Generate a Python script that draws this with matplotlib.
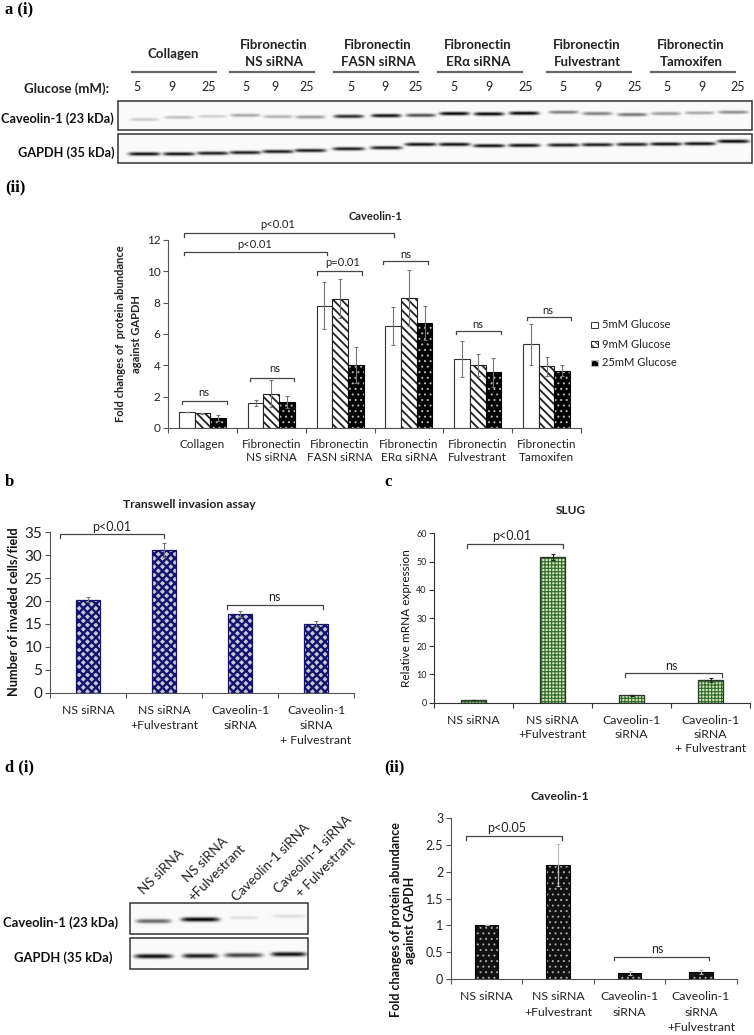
#!/usr/bin/env python3
# -*- coding: utf-8 -*-
"""
Multi panel figure: western blots and bar charts of Caveolin-1 / SLUG.
"""

import numpy as np
import matplotlib
matplotlib.use("Agg")
import matplotlib.pyplot as plt
from matplotlib.patches import Rectangle

W, H = 754, 1035

# panel a (ii)
groups_a = ["Collagen", "Fibronectin\nNS siRNA", "Fibronectin\nFASN siRNA",
            "Fibronectin\nERα siRNA", "Fibronectin\nFulvestrant", "Fibronectin\nTamoxifen"]
glucose_5 = [1.0, 1.6, 7.8, 6.5, 4.4, 5.35]
glucose_9 = [0.93, 2.2, 8.25, 8.3, 4.05, 3.95]
glucose_25 = [0.65, 1.65, 4.0, 6.7, 3.55, 3.65]
err_5 = [0.0, 0.2, 1.5, 1.2, 1.15, 1.3]
err_9 = [0.05, 0.85, 1.25, 1.8, 0.7, 0.6]
err_25 = [0.2, 0.4, 1.15, 1.1, 0.95, 0.35]

# panels b, c, d (ii)
labels_b = ["NS siRNA", "NS siRNA\n+Fulvestrant", "Caveolin-1\nsiRNA", "Caveolin-1\nsiRNA\n+ Fulvestrant"]
labels_d = ["NS siRNA", "NS siRNA\n+Fulvestrant", "Caveolin-1\nsiRNA", "Caveolin-1\nsiRNA\n+Fulvestrant"]
invaded = [20.3, 31.2, 17.2, 15.0]
invaded_err = [0.6, 1.5, 0.7, 0.7]
slug = [0.9, 51.7, 2.6, 8.0]
slug_err = [0.05, 1.1, 0.2, 0.7]
cav_fold = [1.0, 2.12, 0.11, 0.13]
cav_fold_err = [0.0, 0.39, 0.04, 0.04]

# blot band strength per lane, 0-1
cav_bands_a = [.2, .25, .18, .35, .3, .4, .85, .95, .7, 1., 1., 1., .5, .5, .55, .4, .35, .45]
gapdh_bands_a = [.95, .95, .9, .9, .9, .9, .9, .9, .95, .95, .95, .95, .9, .9, .9, .95, .95, 1.]
cav_bands_d = [.6, 1.0, .12, .13]
gapdh_bands_d = [.95, .9, .75, .95]
glucose_mm = ["5", "9", "25"]

FONT = "Lato"
plt.rcParams["font.family"] = [FONT, "DejaVu Sans"]
plt.rcParams["hatch.linewidth"] = 1.0

fig = plt.figure(figsize=(W / 100, H / 100), dpi=100)


def make_axes(x0, x1, y0, y1):
    # y0 is the pixel row of the baseline, y1 the row of the top tick
    return fig.add_axes([x0 / W, 1 - y0 / H, (x1 - x0) / W, (y0 - y1) / H])


def style_axes(ax, labels, yticks, yticklabels, tick_size, label_size, pad, linespacing=1.35, tick_color="#555555"):
    n = len(labels)
    ax.set_xlim(0, n)
    ax.set_ylim(yticks[0], yticks[-1])
    for s in ("top", "right"):
        ax.spines[s].set_visible(False)
    for s in ("left", "bottom"):
        ax.spines[s].set_color(tick_color)
        ax.spines[s].set_linewidth(0.8)
    ax.set_xticks(np.arange(n + 1))
    ax.set_xticklabels([])
    ax.set_xticks(np.arange(n) + 0.5, labels, minor=True, fontsize=label_size, color="#222222", linespacing=linespacing)
    ax.tick_params(axis="x", which="major", length=3.5, width=0.8, color=tick_color)
    ax.tick_params(axis="x", which="minor", length=0, pad=pad)
    ax.set_yticks(yticks, yticklabels, fontsize=tick_size, color="#222222")
    ax.tick_params(axis="y", length=3.5, width=0.8, color=tick_color, pad=2)
    ax.patch.set_alpha(0)


overlay = fig.add_axes([0, 0, 1, 1], zorder=10)
overlay.set_axis_off()


def bracket(x0, x1, y, text=None, tx=None, ty=None, size=8, drop=3.5):
    overlay.plot([x0, x0, x1, x1], [y + drop, y, y, y + drop], color="#444444", lw=0.9, solid_joinstyle="miter")
    if text:
        overlay.text(tx, ty, text, ha="center", va="center", fontsize=size, color="#222222")


def blot(x0, x1, y0, y1, lane_x, lane_y, lane_w, strength, sigma=1.7):
    # paint each lane as a soft band, lane_* are pixel positions
    ss = 3
    nx, ny = int((x1 - x0) * ss), int((y1 - y0) * ss)
    yy, xx = np.mgrid[0:ny, 0:nx]
    xx = x0 + xx / ss
    yy = y0 + yy / ss
    img = np.full((ny, nx), 0.02)
    for lx, ly, lw_, s in zip(lane_x, lane_y, lane_w, strength):
        across = np.exp(-(np.abs(xx - lx) / (lw_ / 2)) ** 6)
        down = np.exp(-((yy - ly) / sigma) ** 2)
        img = np.maximum(img, s * across * down)
    overlay.imshow(img, cmap="gray_r", vmin=0, vmax=1, extent=(x0, x1, y1, y0),
                   aspect="auto", interpolation="bilinear", zorder=1)
    overlay.add_patch(Rectangle((x0, y0), x1 - x0, y1 - y0, fill=False, ec="#333333", lw=1.1, zorder=2))


# ---- panel a (i) blot
group_centers = [173, 274, 378, 478, 587, 691]
group_spans = [(131, 217), (229, 315), (333, 419), (437, 523), (546, 632), (650, 736)]
for i, (name, cx, sp) in enumerate(zip(groups_a, group_centers, group_spans)):
    cy = 54 if i == 0 else 53.5
    overlay.text(cx, cy, name, ha="center", va="center", fontsize=9.5, fontweight="bold",
                 color="#222222", linespacing=1.45)
    overlay.plot(sp, [71.7, 71.7], color="#666666", lw=1.6, solid_capstyle="butt")

num_x = np.array([285, 357, 433, 512, 571, 637, 729, 800, 864, 945, 1017, 1094,
                  1171, 1243, 1320, 1387, 1460, 1535]) / 2.08
for i, nx_ in enumerate(num_x):
    overlay.text(nx_, 86.7, glucose_mm[i % 3], ha="center", va="center", fontsize=9, color="#222222")
overlay.text(66, 89, "Glucose (mM):", ha="center", va="center", fontsize=9.5, fontweight="bold", color="#222222")

lane_a = np.array([300, 372, 442, 510, 578, 645, 725, 803, 875, 945, 1017, 1090,
                   1172, 1242, 1315, 1385, 1455, 1525]) / 2.08
cav_y = np.array([358, 352, 349, 346, 350, 351, 349, 347, 346, 341, 342, 340,
                  337, 341, 344, 341, 339, 337]) / 3
gapdh_y = np.array([462, 462, 460, 458, 455, 452, 447, 444, 434, 434, 438, 437,
                    436, 435, 434, 433, 432, 425]) / 3
blot(118, 752, 100.7, 130, lane_a, cav_y, [30] * 18, cav_bands_a)
blot(118, 752, 133.7, 163.3, lane_a, gapdh_y, [32] * 18, gapdh_bands_a)
overlay.text(57.5, 118.5, "Caveolin-1 (23 kDa)", ha="center", va="center", fontsize=9.2, fontweight="bold", color="#111111")
overlay.text(66, 152.5, "GAPDH (35 kDa)", ha="center", va="center", fontsize=9.2, fontweight="bold", color="#111111")

# ---- panel a (ii)
ax = make_axes(168, 581, 428, 240)
style_axes(ax, groups_a, np.arange(0, 13, 2), [str(v) for v in range(0, 13, 2)], 8.5, 8.5, 8, linespacing=1.25)
x = np.arange(len(groups_a)) + 0.5
bw = 0.228
err_kw = dict(ecolor="#777777", elinewidth=0.8, capsize=1.5, capthick=0.8)
plt.rcParams["hatch.linewidth"] = 1.3
ax.bar(x - bw, glucose_5, bw, color="white", edgecolor="#333333", lw=0.8, yerr=err_5, error_kw=err_kw, label="5mM Glucose")
ax.bar(x, glucose_9, bw, color="white", edgecolor="#222222", lw=0.8, hatch="\\\\\\\\", yerr=err_9, error_kw=err_kw, label="9mM Glucose")
plt.rcParams["hatch.linewidth"] = 0.7
ax.bar(x + bw, glucose_25, bw, color="black", edgecolor="#bbbbbb", lw=0, hatch="...", yerr=err_25, error_kw=err_kw, label="25mM Glucose")
ax.bar(x + bw, glucose_25, bw, fill=False, edgecolor="black", lw=0.8)

overlay.text(376, 216.7, "Caveolin-1", ha="center", va="center", fontsize=8, fontweight="bold", color="#222222")
overlay.text(128.5, 334, "Fold changes of  protein abundance\nagainst GAPDH", rotation=90, ha="center", va="center",
             fontsize=8, fontweight="bold", color="#222222", linespacing=1.6, ma="center")
bracket(184, 394, 233.3, "p<0.01", 278, 225)
bracket(184, 326.5, 251.7, "p<0.01", 254.6, 245)
bracket(317, 362, 271.3, "p=0.01", 342.6, 262.7)
bracket(383, 428, 260.7, "ns", 406, 255)
bracket(182, 226.6, 400.7, "ns", 203.7, 392.7)
bracket(249.6, 294, 377.7, "ns", 274.5, 368)
bracket(456, 500.6, 330.7, "ns", 478, 324)
bracket(526.7, 571.4, 316.7, "ns", 547.7, 310)

leg_names = ["5mM Glucose", "9mM Glucose", "25mM Glucose"]
for name, yy_, fc, ec, ht in zip(leg_names, [325, 344, 363], ["white", "white", "black"],
                                 ["#333333", "#222222", "#bbbbbb"], [None, "\\\\\\\\\\", "..."]):
    overlay.add_patch(Rectangle((591, yy_ - 3.2), 6.5, 6.5, facecolor=fc, edgecolor=ec, lw=0.7, hatch=ht))
    overlay.text(602, yy_, name, ha="left", va="center", fontsize=8, color="#222222")

# ---- panel b
ax = make_axes(50, 354, 692.7, 532.3)
style_axes(ax, labels_b, np.arange(0, 36, 5), [str(v) for v in range(0, 36, 5)], 11, 8.8, 9, linespacing=1.45)
x = np.arange(4) + 0.5
plt.rcParams["hatch.linewidth"] = 1.7
ax.bar(x, invaded, 0.32, color="#c8c8d4", edgecolor="#14146e", lw=0.9, hatch="xxxx",
       yerr=invaded_err, error_kw=dict(ecolor="#777777", elinewidth=0.8, capsize=1.5, capthick=0.8))
plt.rcParams["hatch.linewidth"] = 1.0
overlay.text(189, 504, "Transwell invasion assay", ha="center", va="center", fontsize=8.7, fontweight="bold", color="#222222")
overlay.text(14, 612, "Number of invaded cells/field", rotation=90, ha="center", va="center", fontsize=9.2, fontweight="bold", color="#111111")
bracket(60.3, 164, 534, "p<0.01", 111.7, 526.7, size=9)
bracket(227, 322.7, 605, "ns", 274.3, 596.7, size=9)

# ---- panel c
ax = make_axes(434.3, 750, 702.7, 533.3)
style_axes(ax, labels_b, np.arange(0, 61, 10), [str(v) for v in range(0, 61, 10)], 6.5, 8.8, 9, linespacing=1.35, tick_color="#333333")
plt.rcParams["hatch.linewidth"] = 0.8
ax.bar(x, slug, 0.32, color="#d6e4c4", edgecolor="#2c6a22", lw=0.9, hatch="+++++")
ax.bar(x, slug, 0.32, fill=False, edgecolor="#333333", lw=0.8, yerr=slug_err,
       error_kw=dict(ecolor="#222222", elinewidth=0.8, capsize=1.5, capthick=0.8))
plt.rcParams["hatch.linewidth"] = 0.7
overlay.text(571, 510, "SLUG", ha="center", va="center", fontsize=8.5, fontweight="bold", color="#222222")
overlay.text(406.7, 618, "Relative mRNA expression", rotation=90, ha="center", va="center", fontsize=8.5, color="#111111")
bracket(466.7, 563, 544, "p<0.01", 511.3, 535.7, size=9)
bracket(625, 721.7, 673.3, "ns", 671.3, 665.7, size=9)

# ---- panel d (i) blot
lanes_d = np.array([460, 600, 730, 865]) / 3
blot(130, 307.7, 902.7, 933.7, lanes_d, 760 + np.array([482, 477, 472, 467]) / 3, [35, 38, 30, 35], cav_bands_d, sigma=2.2)
blot(130, 307.7, 938.3, 968.7, lanes_d, 760 + np.array([588, 587, 585, 582]) / 3, [38, 35, 38, 35], gapdh_bands_d, sigma=2.2)
overlay.text(61, 922.7, "Caveolin-1 (23 kDa)", ha="center", va="center", fontsize=9.4, fontweight="bold", color="#111111")
overlay.text(63.3, 957.7, "GAPDH (35 kDa)", ha="center", va="center", fontsize=9.4, fontweight="bold", color="#111111")
for name, tx, ty in [("NS siRNA", 162, 871.7), ("NS siRNA", 205.7, 860), ("+Fulvestrant", 217.3, 872.7),
                     ("Caveolin-1 siRNA", 270.7, 862.7), ("Caveolin-1 siRNA", 313, 854), ("+ Fulvestrant", 326, 867.3)]:
    overlay.text(tx, ty, name, rotation=45, ha="center", va="center", fontsize=9.6, color="#222222", rotation_mode="anchor")

# ---- panel d (ii)
ax = make_axes(451, 736.7, 978.7, 818.3)
style_axes(ax, labels_d, [0, 0.5, 1, 1.5, 2, 2.5, 3], ["0", "0.5", "1", "1.5", "2", "2.5", "3"], 9, 8.8, 9, linespacing=1.5)
ax.bar(x, cav_fold, 0.33, color="#111111", edgecolor="#aaaaaa", lw=0, hatch="...",
       yerr=cav_fold_err, error_kw=dict(ecolor="#bbbbbb", elinewidth=0.9, capsize=1.5, capthick=0.8))
ax.bar(x, cav_fold, 0.33, fill=False, edgecolor="black", lw=0.8)
overlay.text(560.3, 797, "Caveolin-1", ha="center", va="center", fontsize=8.7, fontweight="bold", color="#222222")
overlay.text(403, 920, "Fold changes of protein abundance\nagainst GAPDH", rotation=90, ha="center", va="center",
             fontsize=9, fontweight="bold", color="#111111", linespacing=1.15, ma="center")
bracket(465.7, 561.7, 836.3, "p<0.05", 506.7, 828.3, size=9)
bracket(614, 709, 956.7, "ns", 657.7, 949.3, size=9)

# panel letters
for txt, px, py in [("a (i)", 5, 9), ("(ii)", 5, 187), ("b", 5, 482), ("c", 384, 482), ("d (i)", 5, 767), ("(ii)", 384, 767)]:
    overlay.text(px, py, txt, ha="left", va="center", fontsize=12, fontweight="bold",
                 family="Liberation Serif", color="black")

overlay.set_xlim(0, W)
overlay.set_ylim(H, 0)
fig.savefig("out.png", dpi=100)
